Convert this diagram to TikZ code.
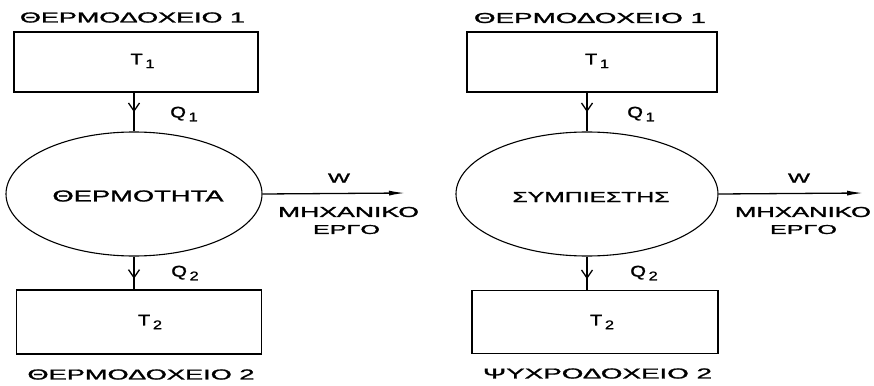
\documentclass[tikz,border=0pt]{standalone}
\usepackage{fontspec}
\usepackage{graphicx}
\setmainfont{Liberation Sans}
% slightly emboldened sans, then stretched to the wide lettering
\newfontfamily\labelfont[FakeBold=1.2]{Liberation Sans}
\usetikzlibrary{arrows.meta,decorations.markings,shapes.geometric}
% word fitted into a given width and cap height
\newcommand\fitword[3]{\resizebox{#1pt}{#2pt}{#3}}
% symbol with a lowered index, widened
\newcommand\idxsym[2]{\scalebox{1.3}[1]{\fontsize{15.5}{17}\selectfont #1\raisebox{-0.45ex}{\fontsize{12.5}{13}\selectfont\,#2}}}
\begin{document}
\begin{tikzpicture}[x=1pt,y=-1pt,
  every node/.style={font=\labelfont, inner sep=0pt},
  reservoir/.style={draw, line width=1.6pt, minimum width=#1, minimum height=60pt},
  engine/.style={draw, ellipse, line width=1.1pt, minimum width=#1, minimum height=124pt},
  flow/.style={line width=1.3pt, postaction={decorate},
    decoration={markings, mark=at position #1 with {\arrow{Straight Barb[length=8pt,width=11pt,line width=1.3pt]}}}},
  work/.style={line width=1.3pt, -{Latex[length=16pt,width=5pt]}}]
\useasboundingbox (0,0) rectangle (874,385);

% ---- heat engine ----
\node (lblA1) at (132.5,17.5) {\fitword{225}{10}{ΘΕΡΜΟΔΟΧΕΙΟ 1}};
\node[reservoir=244pt] (boxA1) at (136,62) {};
\node (tA1) at (142.5,61) {\idxsym{T}{1}};
\node[engine=256pt] (ellA) at (134,194) {};
\node (txA) at (138,196) {\fitword{171}{11}{ΘΕΡΜΟΤΗΤΑ}};
\node (qA1) at (184,114) {\idxsym{Q}{1}};
\node[reservoir=245pt, minimum height=64pt] (boxA2) at (139,322) {};
\node (tA2) at (150,322) {\idxsym{T}{2}};
\node (qA2) at (185,273) {\idxsym{Q}{2}};
\node (lblA2) at (141,374.5) {\fitword{227}{10}{ΘΕΡΜΟΔΟΧΕΙΟ 2}};
\coordinate (wA) at (405,193);
\node (wlA) at (339,178) {\fitword{22}{9}{W}};
\node (mA) at (348.5,212) {\fitword{141}{10}{ΜΗΧΑΝΙΚΟ}};
\node (eA) at (346.5,229.5) {\fitword{67}{9}{ΕΡΓΟ}};

\draw[flow=0.5] (ellA.north |- boxA1.south) -- (ellA.north);
\draw[flow=0.68] (ellA.south) -- (ellA.south |- boxA2.north);
\draw[work] (ellA.east) -- (wA);

% ---- compressor ----
\node (lblB1) at (590,18) {\fitword{232}{10}{ΘΕΡΜΟΔΟΧΕΙΟ 1}};
\node[reservoir=250pt] (boxB1) at (592,62) {};
\node (tB1) at (597,61) {\idxsym{T}{1}};
\node[engine=262pt] (ellB) at (587,194) {};
\node (txB) at (591,197) {\fitword{157}{10}{ΣΥΜΠΙΕΣΤΗΣ}};
\node (qB1) at (641,114) {\idxsym{Q}{1}};
\node[reservoir=246pt, minimum height=63pt] (boxB2) at (595,322) {};
\node (tB2) at (602,322) {\idxsym{T}{2}};
\node (qB2) at (644,273) {\idxsym{Q}{2}};
\node (lblB2) at (597.5,373.5) {\fitword{229}{10}{ΨΥΧΡΟΔΟΧΕΙΟ 2}};
\coordinate (wB) at (863,193);
\node (wlB) at (799,178) {\fitword{22}{9}{W}};
\node (mB) at (803,212) {\fitword{136}{10}{ΜΗΧΑΝΙΚΟ}};
\node (eB) at (803.5,229.5) {\fitword{67}{9}{ΕΡΓΟ}};

\draw[flow=0.5] (ellB.north |- boxB1.south) -- (ellB.north);
\draw[flow=0.68] (ellB.south) -- (ellB.south |- boxB2.north);
\draw[work] (ellB.east) -- (wB);
\end{tikzpicture}
\end{document}
